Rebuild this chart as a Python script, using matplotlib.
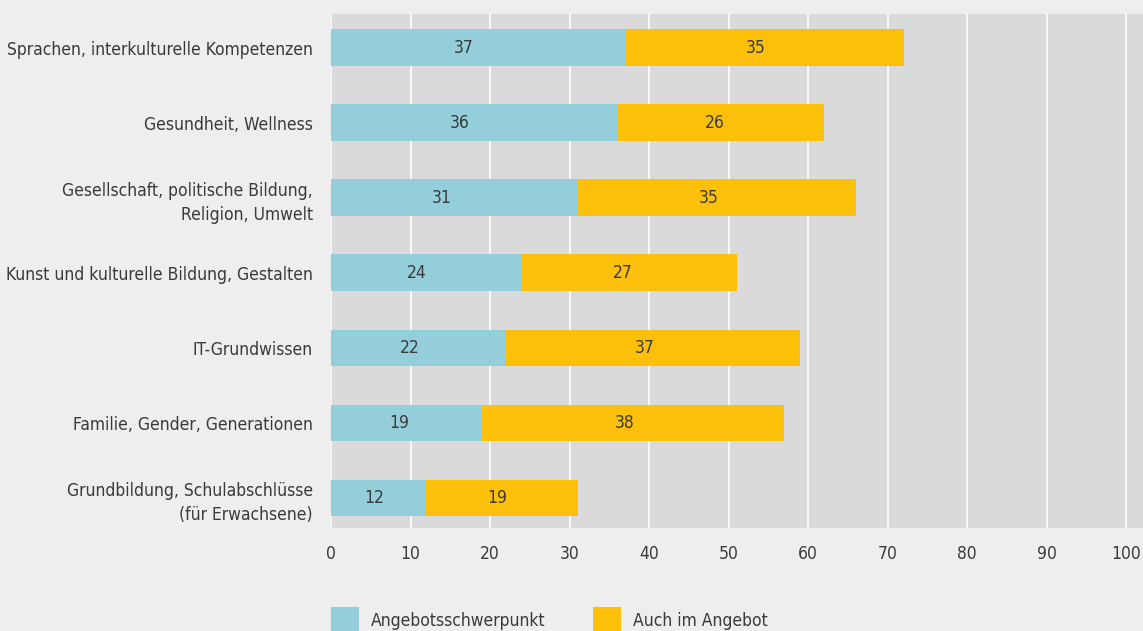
import matplotlib
matplotlib.use('Agg')
import matplotlib.pyplot as plt
import matplotlib.patches as patches
from matplotlib import font_manager
import numpy as np

categories = ['Sprachen, interkulturelle Kompetenzen',
              'Gesundheit, Wellness',
              'Gesellschaft, politische Bildung,\nReligion, Umwelt',
              'Kunst und kulturelle Bildung, Gestalten',
              'IT-Grundwissen',
              'Familie, Gender, Generationen',
              'Grundbildung, Schulabschlüsse\n(für Erwachsene)']
schwerpunkt = [37, 36, 31, 24, 22, 19, 12]
auch_im_angebot = [35, 26, 35, 27, 37, 38, 19]
series_names = ['Angebotsschwerpunkt', 'Auch im Angebot']
x_ticks = [0, 10, 20, 30, 40, 50, 60, 70, 80, 90, 100]

blue = '#94cedb'
yellow = '#fcc00a'
text_col = '#3a3a3a'

# pick a narrow font if there is one
names = {f.name for f in font_manager.fontManager.ttflist}
if 'Liberation Sans Narrow' in names:
    plt.rcParams['font.family'] = ['Liberation Sans Narrow', 'DejaVu Sans']
    fs = 14.5
else:
    plt.rcParams['font.family'] = ['DejaVu Sans']
    plt.rcParams['font.stretch'] = 'condensed'
    fs = 12.5

fig = plt.figure(figsize=(11.43, 6.31), dpi=100)
fig.patch.set_facecolor('#eeeeee')
ax = fig.add_axes([331 / 1143, 1 - 528 / 631, 1 - 331 / 1143, (528 - 14) / 631])
ax.set_facecolor('#dadada')

y = np.arange(len(categories))
h = 0.49
ax.barh(y, schwerpunkt, height=h, color=blue, zorder=3)
ax.barh(y, auch_im_angebot, left=schwerpunkt, height=h, color=yellow, zorder=3)

# value labels in each segment (sit a bit left of centre in the original)
for i in range(len(categories)):
    ax.text(schwerpunkt[i] * 0.45, y[i], str(schwerpunkt[i]), ha='center', va='center',
            fontsize=fs, color=text_col, zorder=4)
    ax.text(schwerpunkt[i] + auch_im_angebot[i] * 0.47, y[i], str(auch_im_angebot[i]),
            ha='center', va='center', fontsize=fs, color=text_col, zorder=4)

ax.set_xlim(0, 102.1)
ax.set_ylim(6.4, -0.45)
ax.set_xticks(x_ticks)
ax.set_yticks(y)
ax.set_yticklabels(categories)
ax.tick_params(axis='x', length=0, pad=12, labelsize=fs, labelcolor=text_col)
ax.tick_params(axis='y', length=0, pad=13, labelsize=fs, labelcolor=text_col)
for lbl in ax.get_yticklabels():
    lbl.set_multialignment('right')
    lbl.set_linespacing(1.45)

ax.grid(axis='x', color='white', linewidth=1.2, zorder=0)
ax.set_axisbelow(True)
for s in ax.spines.values():
    s.set_visible(False)

# legend at the bottom, cut by the figure edge like the original
leg_items = [(331, blue, series_names[0]), (593, yellow, series_names[1])]
for x0, col, name in leg_items:
    fig.patches.append(patches.Rectangle((x0 / 1143, 0), 28 / 1143, 24 / 631,
                                         transform=fig.transFigure, facecolor=col,
                                         edgecolor='none'))
    fig.text((x0 + 40) / 1143, 10 / 631, name, ha='left', va='center',
             fontsize=fs, color=text_col)

fig.savefig('out.png', dpi=100, facecolor=fig.get_facecolor())
